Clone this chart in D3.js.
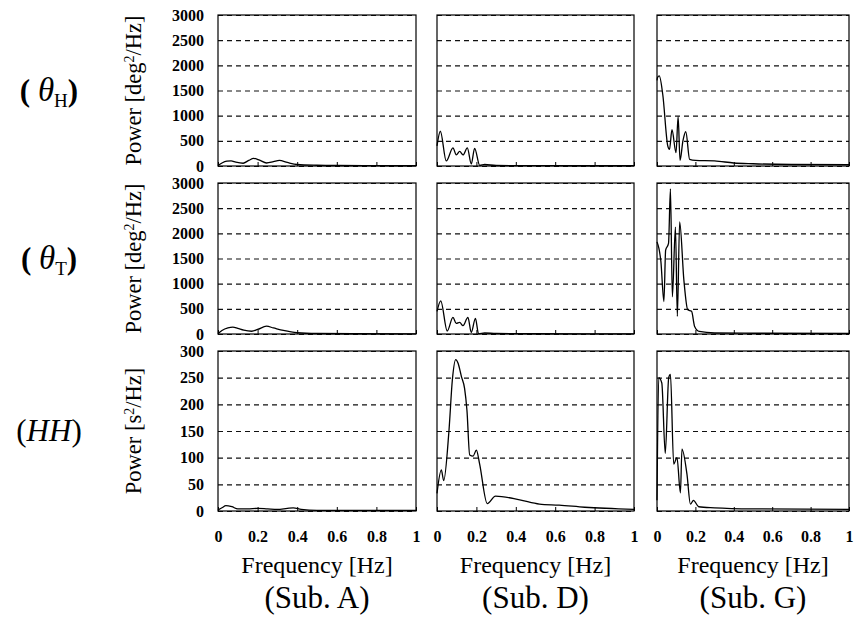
<!DOCTYPE html>
<html>
<head>
<meta charset="utf-8">
<script src="https://cdn.jsdelivr.net/npm/d3@7"></script>
<style>
  body { margin: 0; background: #fff; }
  svg { display: block; font-family: "Liberation Serif", "Times New Roman", serif; }
</style>
</head>
<body>
<div id="chart"></div>
<script>
// ---- data ----
var freqTicks  = [0, 0.2, 0.4, 0.6, 0.8, 1];
var angleTicks = [0, 500, 1000, 1500, 2000, 2500, 3000];
var hhTicks    = [0, 50, 100, 150, 200, 250, 300];

var subjects  = ["(Sub. A)", "(Sub. D)", "(Sub. G)"];
var xTitle    = "Frequency [Hz]";

// Sub. A
var aHFreq = [0, 0.02, 0.045, 0.066, 0.09, 0.127, 0.155, 0.18, 0.21, 0.245, 0.28, 0.31, 0.35, 0.4, 0.5, 0.6, 0.8, 1];
var aHPow  = [10, 60, 95, 100, 75, 55, 110, 150, 115, 60, 85, 110, 70, 30, 15, 10, 8, 5];
var aTFreq = [0, 0.02, 0.05, 0.075, 0.1, 0.13, 0.17, 0.2, 0.245, 0.28, 0.33, 0.4, 0.5, 0.7, 1];
var aTPow  = [10, 70, 120, 135, 110, 75, 55, 90, 155, 120, 70, 25, 10, 5, 3];
var aHHFreq = [0, 0.02, 0.04, 0.07, 0.1, 0.15, 0.2, 0.25, 0.3, 0.35, 0.38, 0.42, 0.5, 0.7, 1];
var aHHPow  = [2, 6, 10, 8, 4, 4, 5, 4, 3, 5, 6, 3, 1, 1, 1];

// Sub. D
var dHFreq = [0, 0.017, 0.047, 0.081, 0.098, 0.115, 0.132, 0.154, 0.174, 0.191, 0.217, 0.242, 0.3, 0.5, 0.7, 1];
var dHPow  = [400, 690, 100, 360, 220, 290, 220, 360, 40, 350, 10, 30, 10, 8, 5, 5];
var dTFreq = [0, 0.019, 0.052, 0.081, 0.098, 0.115, 0.132, 0.157, 0.174, 0.195, 0.211, 0.242, 0.3, 0.5, 1];
var dTPow  = [450, 660, 60, 330, 210, 230, 165, 330, 30, 310, 5, 20, 10, 5, 3];
var dHHFreq = [0, 0.022, 0.034, 0.061, 0.078, 0.095, 0.107, 0.124, 0.14, 0.152, 0.166, 0.183, 0.2, 0.216, 0.255, 0.297, 0.42, 0.52, 0.62, 0.75, 1];
var dHHPow  = [33, 77, 57, 152, 246, 284, 277, 252, 230, 189, 105, 103, 114, 89, 14, 28, 21, 13, 11, 7, 3];

// Sub. G
var gHFreq = [0, 0.003, 0.012, 0.03, 0.056, 0.065, 0.078, 0.099, 0.11, 0.12, 0.135, 0.15, 0.17, 0.2, 0.3, 0.4, 0.5, 0.7, 1];
var gHPow  = [1700, 1760, 1790, 1420, 400, 330, 720, 265, 980, 110, 500, 680, 130, 110, 100, 60, 45, 30, 25];
var gTFreq = [0, 0.01, 0.02, 0.036, 0.045, 0.06, 0.07, 0.08, 0.096, 0.106, 0.118, 0.14, 0.16, 0.18, 0.196, 0.22, 0.3, 0.5, 1];
var gTPow  = [1830, 1700, 1450, 645, 1665, 1800, 2885, 740, 2125, 350, 2225, 1070, 480, 450, 150, 50, 20, 15, 10];
var gHHFreq = [0, 0.009, 0.025, 0.043, 0.061, 0.07, 0.087, 0.104, 0.122, 0.13, 0.156, 0.174, 0.19, 0.217, 0.3, 0.5, 1];
var gHHPow  = [20, 250, 240, 108, 250, 256, 88, 100, 34, 116, 69, 13, 20, 8, 6, 4, 3];

var series = [
  [[aHFreq, aHPow], [dHFreq, dHPow], [gHFreq, gHPow]],
  [[aTFreq, aTPow], [dTFreq, dTPow], [gTFreq, gTPow]],
  [[aHHFreq, aHHPow], [dHHFreq, dHHPow], [gHHFreq, gHHPow]]
];

// ---- layout ----
var width = 858, height = 618;
var serif = "'Liberation Serif', 'Times New Roman', serif";
var cols = [{x: 218, w: 198}, {x: 437, w: 197}, {x: 657, w: 192}];
var rows = [{y: 15, h: 151, ticks: angleTicks, unit: "deg", sym: "\u03B8", sub: "H"},
            {y: 183, h: 151, ticks: angleTicks, unit: "deg", sym: "\u03B8", sub: "T"},
            {y: 351, h: 160, ticks: hhTicks, unit: "s", sym: "HH", sub: ""}];

var svg = d3.select("#chart").append("svg")
    .attr("width", width)
    .attr("height", height)
    .attr("font-family", serif);

rows.forEach(function(row, ri) {
  var y = d3.scaleLinear()
      .domain([0, d3.max(row.ticks)])
      .range([row.y + row.h, row.y]);

  cols.forEach(function(col, ci) {
    var x = d3.scaleLinear().domain([0, 1]).range([col.x, col.x + col.w]);
    var g = svg.append("g").attr("class", "panel");

    // dashed grid + y labels
    var yAxis = d3.axisLeft(y)
        .tickValues(row.ticks)
        .tickSizeInner(-col.w)
        .tickSizeOuter(0)
        .tickPadding(14)
        .tickFormat(ci === 0 ? d3.format("d") : "");
    var ya = g.append("g")
        .attr("transform", "translate(" + col.x + ",0)")
        .call(yAxis)
        .attr("font-family", serif)
        .attr("font-size", 16)
        .attr("font-weight", "bold");
    ya.select(".domain").remove();
    ya.selectAll("line")
        .attr("stroke", "#111")
        .attr("stroke-dasharray", "5,4")
        .attr("stroke-width", 1.1);
    ya.selectAll("text").attr("fill", "#000");

    // x axis with inward ticks
    var xAxis = d3.axisBottom(x)
        .tickValues(freqTicks)
        .tickSizeInner(-4)
        .tickSizeOuter(0)
        .tickPadding(20)
        .tickFormat(ri === 2 ? function(d) { return d === 0 || d === 1 ? d3.format("d")(d) : d3.format(".1f")(d); } : "");
    var xa = g.append("g")
        .attr("transform", "translate(0," + (row.y + row.h) + ")")
        .call(xAxis)
        .attr("font-family", serif)
        .attr("font-size", 16)
        .attr("font-weight", "bold");
    xa.select(".domain").remove();
    xa.selectAll("line").attr("stroke", "#000");
    xa.selectAll("text").attr("fill", "#000");

    // frame
    g.append("rect")
        .attr("x", col.x).attr("y", row.y)
        .attr("width", col.w).attr("height", row.h)
        .attr("fill", "none")
        .attr("stroke", "#000")
        .attr("stroke-width", 1.2);

    // spectrum curve
    var s = series[ri][ci];
    var pts = s[0].map(function(f, i) { return [f, s[1][i]]; });
    var line = d3.line()
        .x(function(d) { return x(d[0]); })
        .y(function(d) { return y(d[1]); })
        .curve(d3.curveMonotoneX);
    g.append("path")
        .datum(pts)
        .attr("d", line)
        .attr("fill", "none")
        .attr("stroke", "#000")
        .attr("stroke-width", 1.3);
  });

  // y title
  var cy = row.y + row.h / 2;
  var t = svg.append("text")
      .attr("transform", "translate(141," + cy + ") rotate(-90)")
      .attr("text-anchor", "middle")
      .style("font-size", "22.5px");
  t.append("tspan").text("Power [" + row.unit);
  t.append("tspan").attr("baseline-shift", "super").style("font-size", "14px").text("2");
  t.append("tspan").text("/Hz]");

  // row label
  var r = svg.append("text")
      .attr("x", 49).attr("y", cy + 10)
      .attr("text-anchor", "middle")
      .style("font-size", "31px");
  if (row.sub) {
    r.append("tspan").style("font-weight", "bold").text("( ");
    r.append("tspan").style("font-style", "italic").style("font-size", "33px").text(row.sym);
    r.append("tspan").attr("dy", 6).style("font-size", "19px").text(row.sub);
    r.append("tspan").attr("dy", -6).style("font-weight", "bold").text(")");
  } else {
    r.append("tspan").text("(");
    r.append("tspan").style("font-style", "italic").text(row.sym);
    r.append("tspan").text(")");
  }
});

// column titles
cols.forEach(function(col, ci) {
  var cx = col.x + col.w / 2;
  svg.append("text")
      .attr("x", cx).attr("y", 573)
      .attr("text-anchor", "middle")
      .style("font-size", "24px")
      .text(xTitle);
  svg.append("text")
      .attr("x", cx).attr("y", 608)
      .attr("text-anchor", "middle")
      .style("font-size", "31px")
      .text(subjects[ci]);
});
</script>
</body>
</html>
